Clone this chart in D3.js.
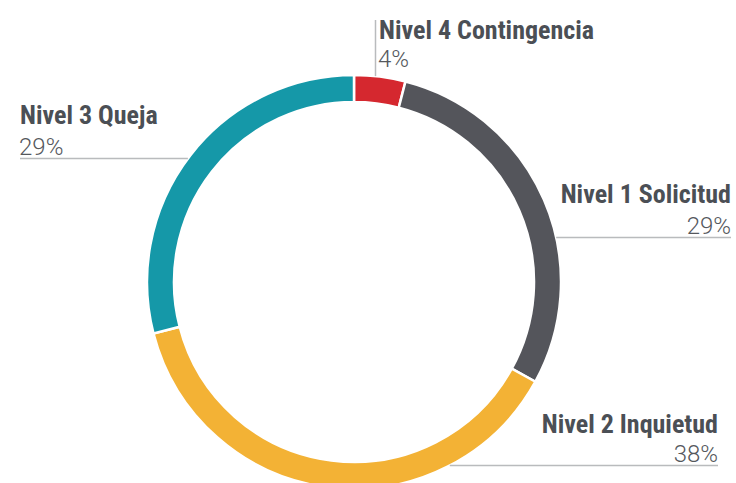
<!DOCTYPE html>
<html>
<head>
<meta charset="utf-8">
<script src="https://cdn.jsdelivr.net/npm/d3@7"></script>
<style>
  html, body { margin: 0; padding: 0; background: #fff; }
  svg { display: block; }
  .name { font-family: "Liberation Sans Narrow", "Roboto Condensed", "DejaVu Sans Condensed", sans-serif; font-weight: 700; font-size: 26px; fill: #4b4f55; }
  .pct { font-family: Roboto, "Liberation Sans", sans-serif; font-weight: 300; font-size: 24px; fill: #55585d; }
</style>
</head>
<body>
<svg id="chart" width="736" height="483"></svg>
<script>
// Ticket levels, in the order they appear clockwise from 12 o'clock
const categories = ["Nivel 4 Contingencia", "Nivel 1 Solicitud", "Nivel 2 Inquietud", "Nivel 3 Queja"];
const shares = [4, 29, 38, 29];
const pctLabels = ["4%", "29%", "38%", "29%"];
const colors = ["#d5282f", "#54555b", "#f3b235", "#1598a8"];

const width = 736, height = 483;
const cx = 354, cy = 282;
const outerR = 207, innerR = 180;

const svg = d3.select("#chart");
const g = svg.append("g").attr("transform", `translate(${cx},${cy})`);

const pie = d3.pie().sort(null).value(d => d.value);
const arcs = pie(categories.map((c, i) => ({ name: c, value: shares[i] })));
const arc = d3.arc().innerRadius(innerR).outerRadius(outerR);
const color = d3.scaleOrdinal().domain(categories).range(colors);

g.selectAll("path.slice")
  .data(arcs)
  .join("path")
  .attr("class", "slice")
  .attr("d", arc)
  .attr("fill", d => color(d.data.name))
  .attr("stroke", "#fff")
  .attr("stroke-width", 2.5);

// x where a horizontal line at height y meets the outer edge of the ring
function ringX(y, side) {
  const dy = y - cy;
  return cx + side * Math.sqrt(Math.max(0, outerR * outerR - dy * dy));
}

// shrink a label horizontally if the font renders it wider than the space it has
function fitWidth(sel, maxW) {
  const node = sel.node();
  const w = node.getComputedTextLength();
  if (w > maxW) sel.attr("textLength", maxW).attr("lengthAdjust", "spacingAndGlyphs");
  return sel;
}

const lineColor = "#b9bbbd";
const labels = svg.append("g");

// Nivel 4: vertical leader above the ring, text to its right
labels.append("line")
  .attr("x1", 375.5).attr("x2", 375.5)
  .attr("y1", 20).attr("y2", cy - Math.sqrt(outerR * outerR - (375.5 - cx) ** 2))
  .attr("stroke", lineColor).attr("stroke-width", 1.5);
fitWidth(labels.append("text").attr("class", "name").attr("x", 379).attr("y", 39).text(categories[0]), 216);
labels.append("text").attr("class", "pct").attr("x", 378).attr("y", 67).text(pctLabels[0]);

// Nivel 3: left side, underline running into the ring
const y3 = 158.5;
labels.append("line")
  .attr("x1", 20).attr("x2", ringX(y3, -1))
  .attr("y1", y3).attr("y2", y3)
  .attr("stroke", lineColor).attr("stroke-width", 1.5);
labels.append("text").attr("class", "name").attr("x", 20).attr("y", 124).text(categories[3]);
labels.append("text").attr("class", "pct").attr("x", 19).attr("y", 155).text(pctLabels[3]);

// Nivel 1: right side
const y1 = 237.5;
labels.append("line")
  .attr("x1", ringX(y1, 1)).attr("x2", 731)
  .attr("y1", y1).attr("y2", y1)
  .attr("stroke", lineColor).attr("stroke-width", 1.5);
labels.append("text").attr("class", "name").attr("x", 731).attr("y", 203).attr("text-anchor", "end").text(categories[1]);
labels.append("text").attr("class", "pct").attr("x", 731).attr("y", 234).attr("text-anchor", "end").text(pctLabels[1]);

// Nivel 2: lower right
const y2 = 465.5;
labels.append("line")
  .attr("x1", ringX(y2, 1)).attr("x2", 718)
  .attr("y1", y2).attr("y2", y2)
  .attr("stroke", lineColor).attr("stroke-width", 1.5);
labels.append("text").attr("class", "name").attr("x", 718).attr("y", 433).attr("text-anchor", "end").text(categories[2]);
labels.append("text").attr("class", "pct").attr("x", 718).attr("y", 462).attr("text-anchor", "end").text(pctLabels[2]);
</script>
</body>
</html>
